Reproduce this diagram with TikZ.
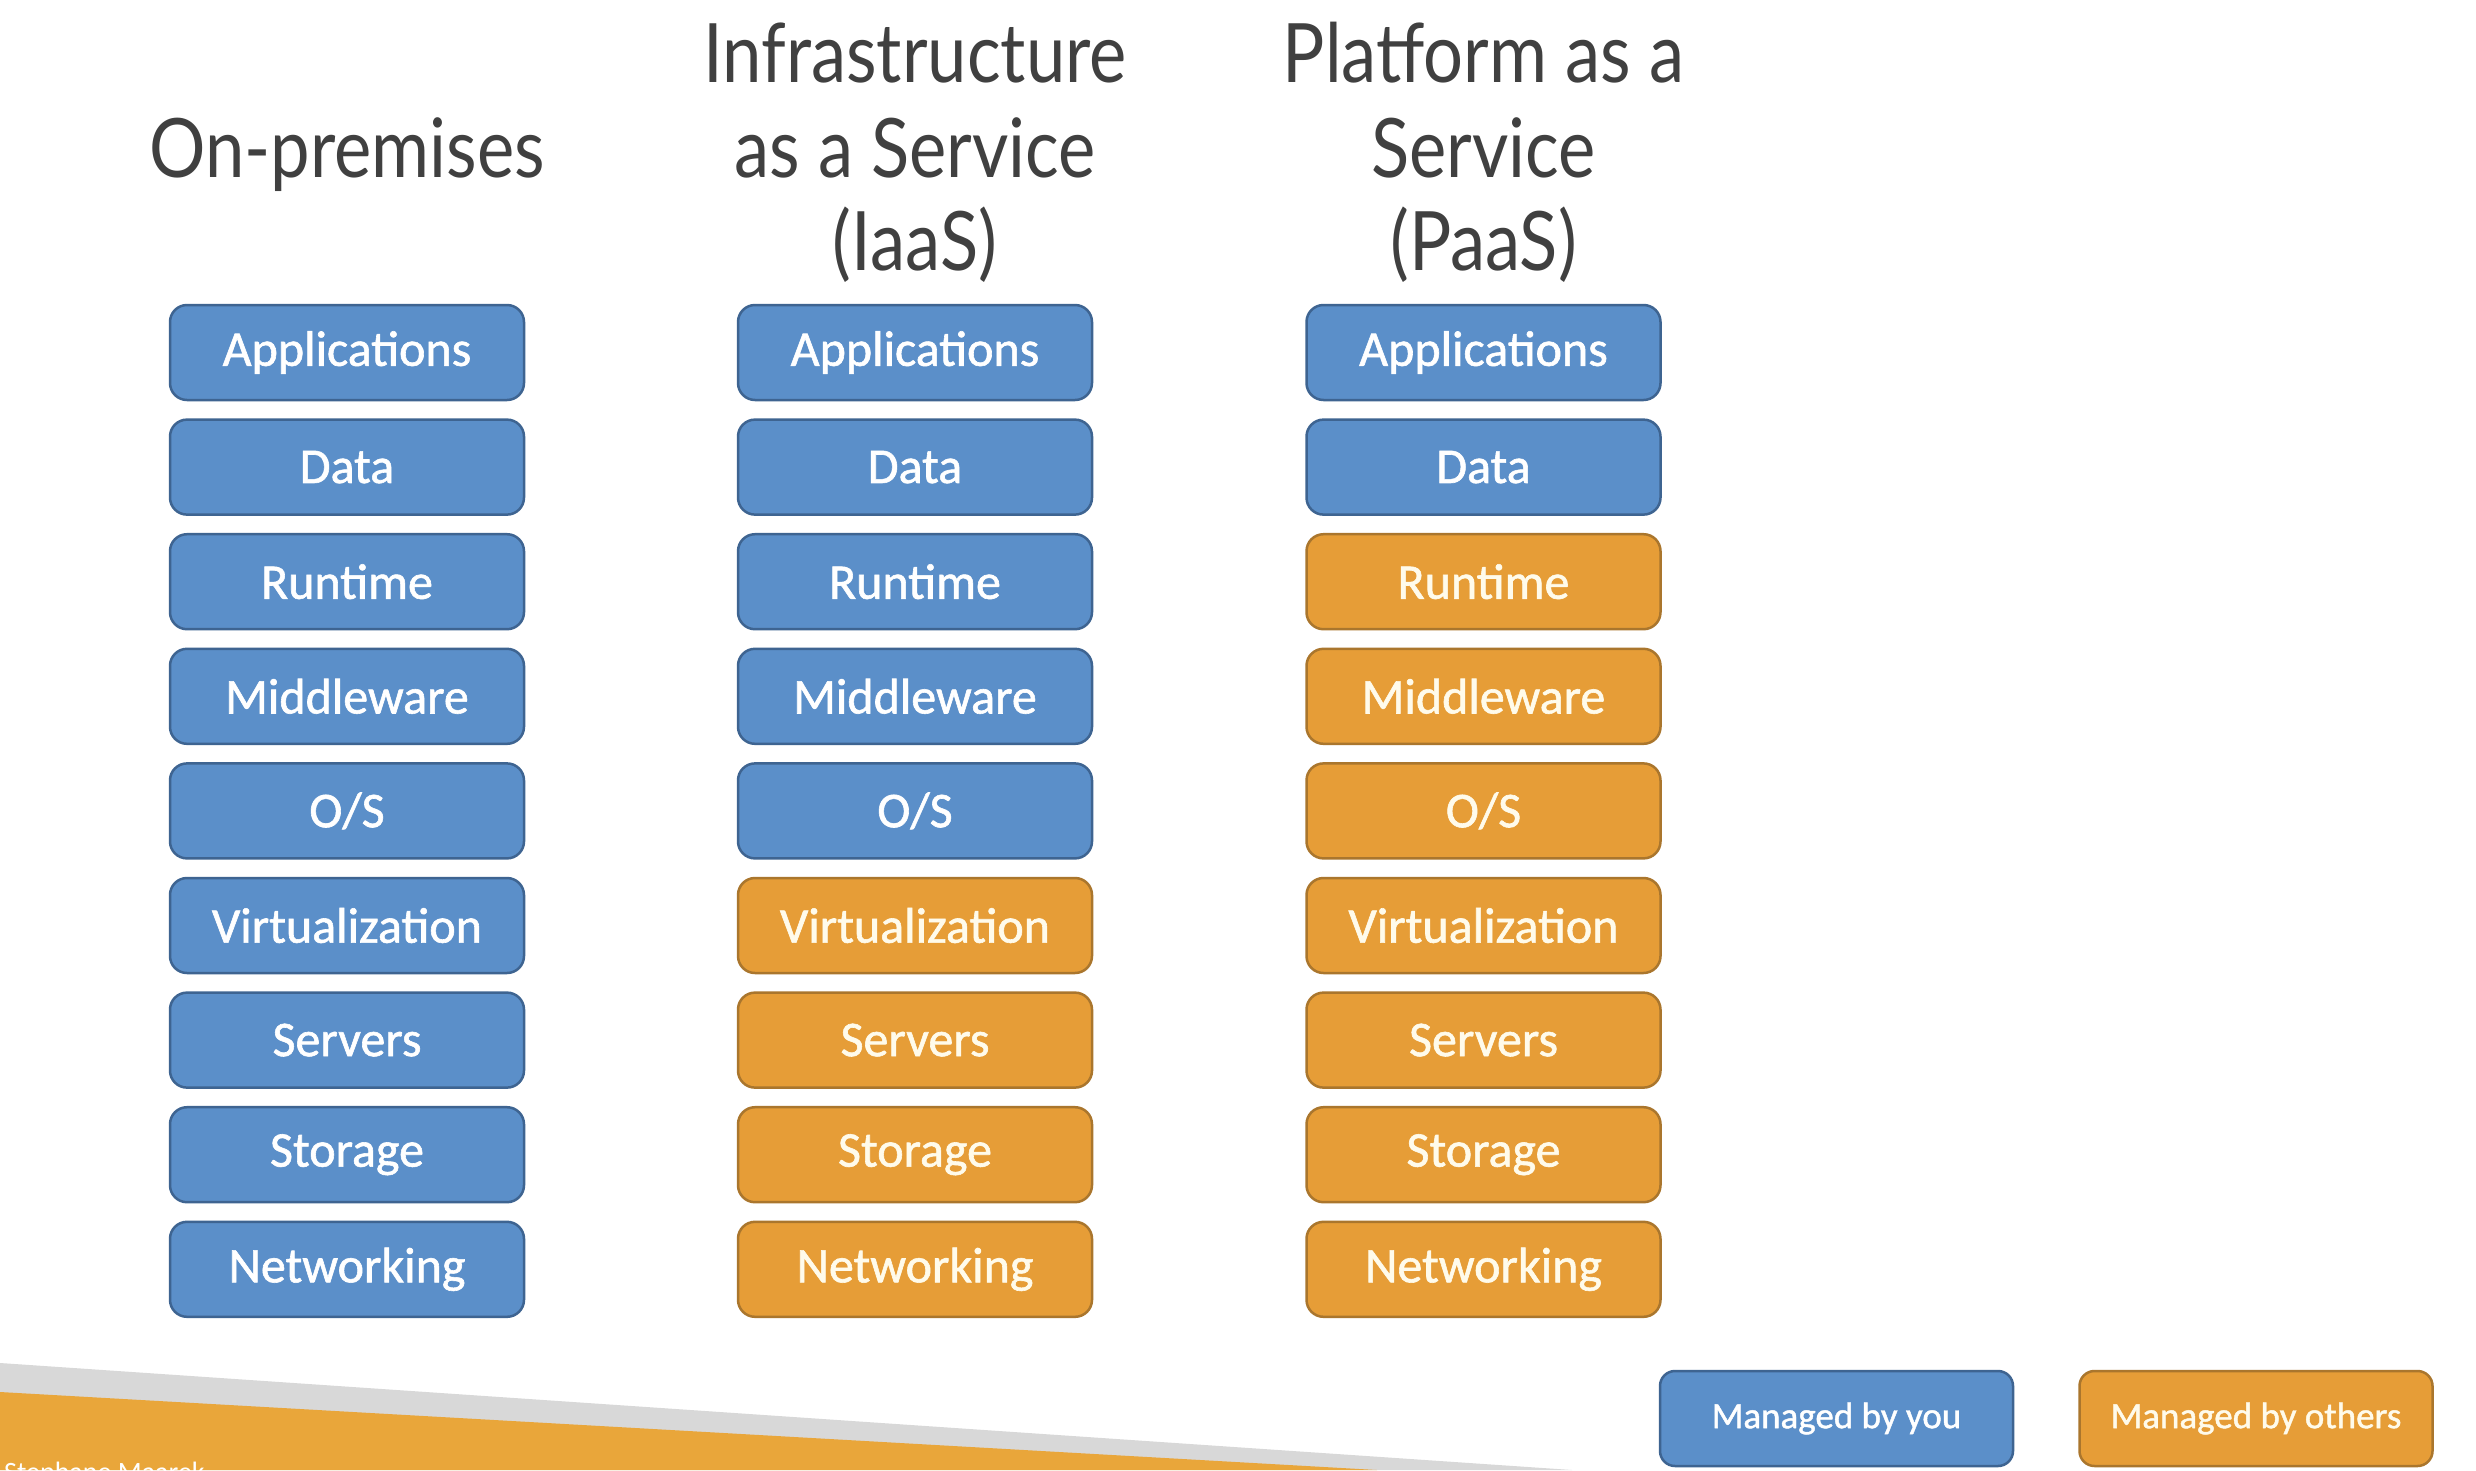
\documentclass[tikz,border=0pt]{standalone}
\usepackage{fontspec}
\usepackage{graphicx}
\setmainfont{Carlito}
\newfontfamily\boxfont[FakeBold=1.2]{Carlito}
\newfontfamily\titlefont{Lato}
\definecolor{bluefill}{RGB}{91,143,201}
\definecolor{blueline}{RGB}{62,100,145}
\definecolor{orangefill}{RGB}{230,157,55}
\definecolor{orangeline}{RGB}{170,118,45}
\definecolor{bandorange}{RGB}{233,166,58}
\definecolor{bandgray}{RGB}{216,216,216}
\definecolor{titlegray}{RGB}{64,64,64}
\definecolor{creamtext}{RGB}{255,251,235}
\newcommand{\ttl}[1]{{\titlefont\fontsize{82}{90}\selectfont\scalebox{0.86}[1]{#1}}}
\newcommand{\lowr}[1]{\raisebox{-3pt}{#1}}
\tikzset{
  stackbox/.style={draw, line width=2.5pt, rounded corners=17pt, minimum width=354pt,
    minimum height=95pt, inner sep=0pt, font=\boxfont\fontsize{50}{60}\selectfont},
  youbox/.style={fill=bluefill, draw=blueline, text=white},
  othersbox/.style={fill=orangefill, draw=orangeline, text=creamtext},
  legendbox/.style={draw, line width=2.5pt, rounded corners=15pt, minimum width=353pt,
    minimum height=95pt, inner sep=0pt, font=\boxfont\fontsize{37}{44}\selectfont},
  titleline/.style={anchor=base, text=titlegray, inner sep=0pt}
}
\begin{document}
\begin{tikzpicture}[x=1pt,y=-1pt]
\useasboundingbox (0,0) rectangle (2476,1470);
\fill[white] (0,0) rectangle (2476,1470);
% bottom bands
\fill[bandgray] (0,1363) -- (1572,1470) -- (0,1470) -- cycle;
\fill[bandorange] (0,1392) -- (1377,1470) -- (0,1470) -- cycle;
\node[anchor=base west, text=white, inner sep=0pt, font=\fontsize{28}{30}\selectfont] (author) at (4,1481) {Stephane Maarek};
% titles
\node[titleline] (t1) at (347,177) {\ttl{On-premises}};
\node[titleline] (t2a) at (915,82) {\ttl{Infrastructure}};
\node[titleline] (t2b) at (915,177) {\ttl{as a Service}};
\node[titleline] (t2c) at (915,270) {\ttl{(IaaS)}};
\node[titleline] (t3a) at (1483.5,82) {\ttl{Platform as a}};
\node[titleline] (t3b) at (1483.5,177) {\ttl{Service}};
\node[titleline] (t3c) at (1483.5,270) {\ttl{(PaaS)}};
% stacks
\foreach \lab [count=\i from 0] in {Applications,Data,Runtime,Middleware,O/S,Virtualization,Servers,Storage,Networking} {
  \ifnum\i<5 \def\stB{youbox}\else\def\stB{othersbox}\fi
  \ifnum\i<2 \def\stC{youbox}\else\def\stC{othersbox}\fi
  \node[stackbox,youbox] (op\i) at (347,{352.5+114.6*\i}) {\lowr{\lab}};
  \node[stackbox,\stB] (ia\i) at (915,{352.5+114.6*\i}) {\lowr{\lab}};
  \node[stackbox,\stC] (pa\i) at (1483.5,{352.5+114.6*\i}) {\lowr{\lab}};
}
% legend
\node[legendbox,youbox] (legyou) at (1836.5,1418.5) {\lowr{Managed by you}};
\node[legendbox,othersbox] (legothers) at (2256,1418.5) {\lowr{Managed by others}};
\end{tikzpicture}
\end{document}
